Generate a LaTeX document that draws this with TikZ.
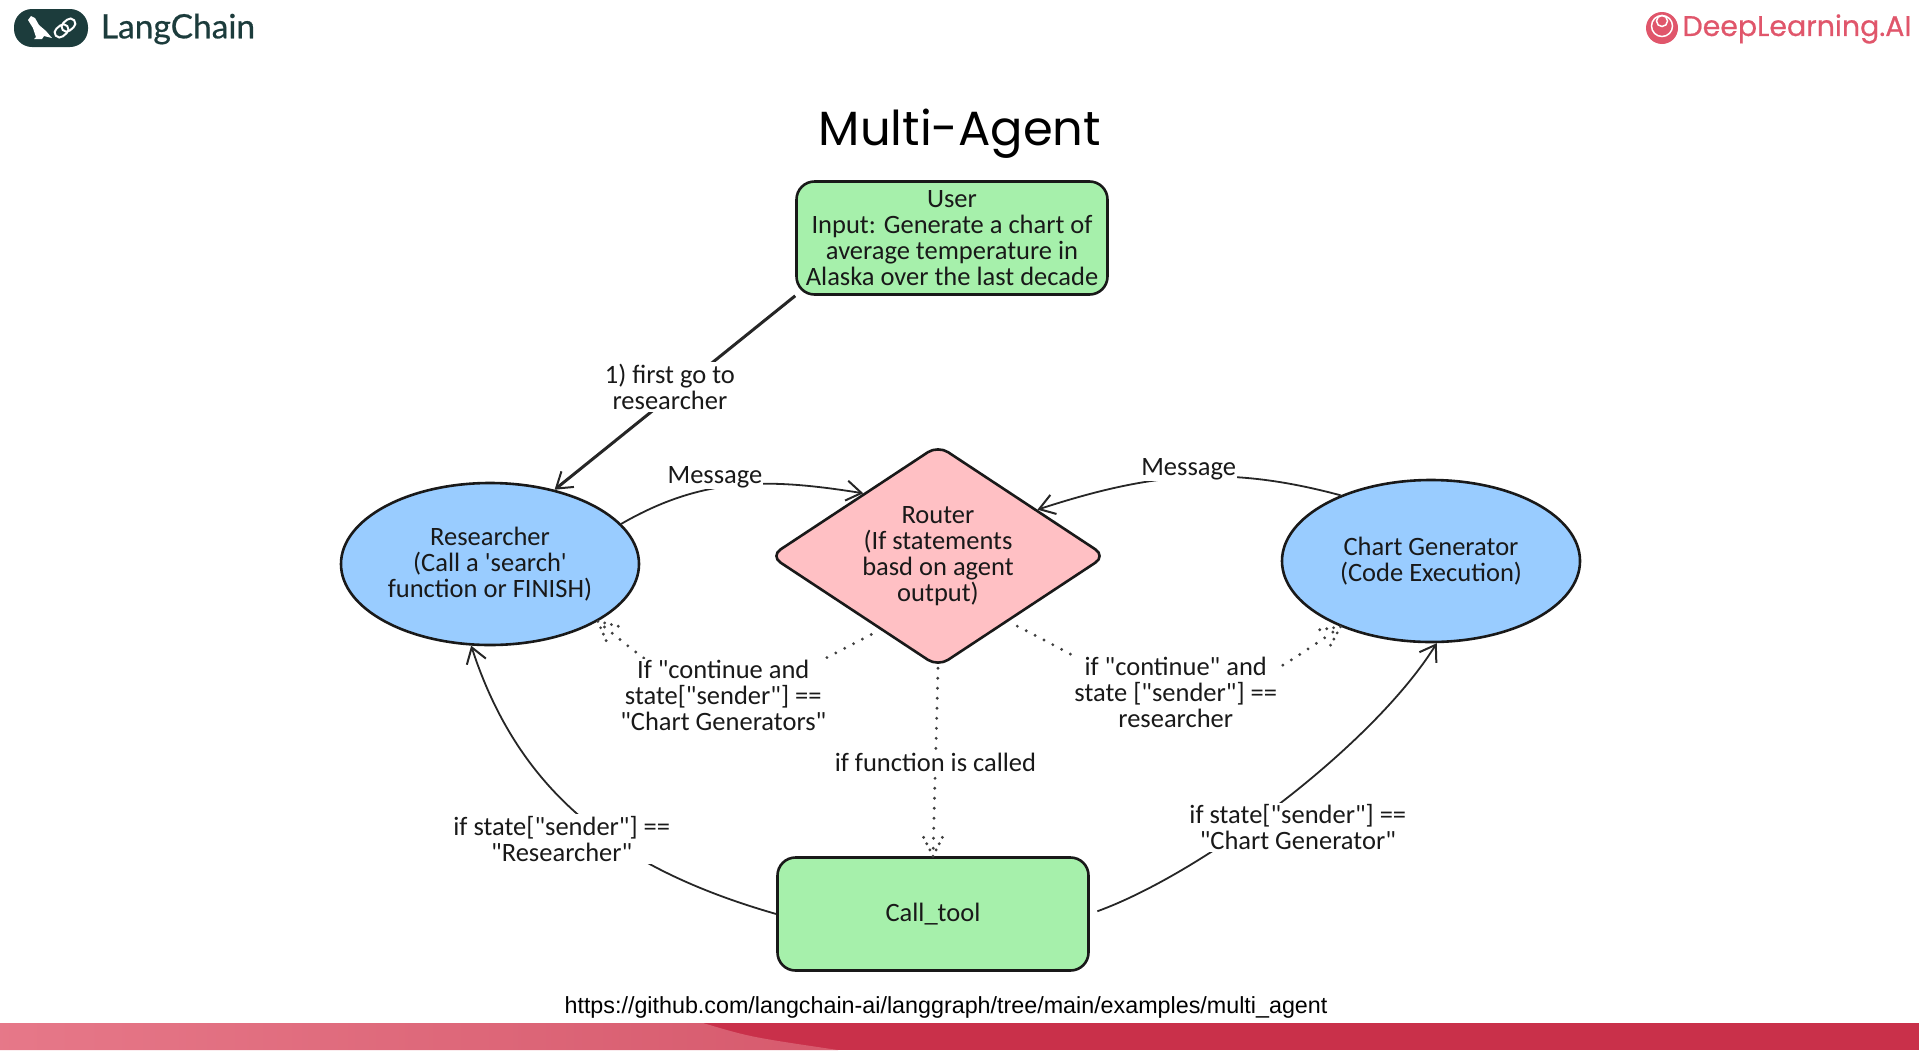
\documentclass[tikz,border=0pt]{standalone}
\usepackage{fontspec}
\newfontfamily\sketchfont{Carlito}
\newfontfamily\popfont{Poppins}
\newfontfamily\popbold[FakeBold=0.6]{Poppins}
\newfontfamily\latofont[FakeBold=0.6]{Lato}
\newfontfamily\urlfont{Liberation Sans}
\usetikzlibrary{arrows.meta,positioning,shapes.geometric}
\definecolor{boxgreen}{HTML}{A6F0AB}
\definecolor{ellblue}{HTML}{99CCFF}
\definecolor{routerpink}{HTML}{FFC0C4}
\definecolor{lcteal}{HTML}{1C3C3C}
\definecolor{dlred}{HTML}{E0566B}
\definecolor{bardark}{HTML}{C9304A}

\begin{document}
\begin{tikzpicture}[->,>={Straight Barb[length=15pt,width=20pt,line width=2pt]},x=1pt,y=-1pt,node distance=318pt]
  \tikzstyle{sketch}=[draw=black!90,line width=2.6pt,align=center,font=\sketchfont\fontsize{26.5}{26}\selectfont,text=black!90,inner sep=0pt]
  \tikzstyle{greenbox}=[sketch,rectangle,rounded corners=18pt,fill=boxgreen,minimum width=311pt,minimum height=113pt]
  \tikzstyle{bluebell}=[sketch,ellipse,fill=ellblue,minimum width=298pt,minimum height=162pt]
  \tikzstyle{router}=[sketch,diamond,aspect=1.5,rounded corners=12pt,fill=routerpink,minimum width=336pt,minimum height=222pt]
  \tikzstyle{lbl}=[fill=white,align=center,inner sep=2pt,text=black!90,font=\sketchfont\fontsize{26.5}{26}\selectfont]
  \tikzstyle{solidline}=[line width=1.8pt,draw=black!85]
  \tikzstyle{dotline}=[line width=3.2pt,draw=black!75,line cap=round,dash pattern=on 0pt off 10pt,-]
  \tikzset{dottip/.pic={\draw[line width=3.2pt,draw=black!75,line cap=round,dash pattern=on 0pt off 7pt,-] (0,0)--(-20,10) (0,0)--(-20,-10);}}

  \useasboundingbox (0,0) rectangle (1919,1050);

  % bottom bar
  \fill[bardark] (0,1023) rectangle (1919,1050);
  \shade[left color=dlred!80,right color=dlred!90!gray] (0,1023) -- (703,1023) .. controls (750,1037) .. (838,1050) -- (0,1050) -- cycle;

  % logos
  \fill[lcteal,rounded corners=18pt] (14,9) rectangle (88,47);
  \fill[white] (28,20) -- (31,16) -- (35,18) -- (39,25) -- (46,31) -- (52,38) -- (44,36) -- (42,39) -- (34,39) -- (36,37) -- (33,28) -- cycle;
  \begin{scope}[rotate around={40:(65,28)},draw=white,line width=2pt]
    \draw[rounded corners=5pt,white] (53,23) rectangle (68,33);
    \draw[rounded corners=5pt,white] (62,23) rectangle (77,33);
  \end{scope}
  \node[text=lcteal,font=\latofont\fontsize{33.5}{33}\selectfont,inner sep=0pt] (lcname) at (178,29) {LangChain};
  \fill[dlred] (1662,28) circle (16);
  \draw[white,line width=1.5pt] (1662,26) circle (10.5);
  \draw[white,line width=1.5pt] (1662,21) circle (5.5);
  \node[text=dlred,font=\popbold\fontsize{28.4}{28}\selectfont,inner sep=0pt] (dlname) at (1797,29) {DeepLearning.AI};

  \node[font=\popfont\fontsize{48}{48}\selectfont,inner sep=0pt] (title) at (960,134) {Multi-Agent};

  \node[greenbox] (U) at (952,238) {User\\Input: Generate a chart of\\average temperature in\\Alaska over the last decade};
  \node[router] (Rt) [below of= U,xshift=-14pt] {Router\\(If statements\\basd on agent\\output)};
  \node[bluebell] (Res) [left of= Rt,xshift=-130pt,yshift=-8pt] {Researcher\\(Call a 'search'\\function or FINISH)};
  \node[bluebell] (Chart) [right of= Rt,xshift=175pt,yshift=-5pt] {Chart Generator\\(Code Execution)};
  \node[greenbox] (Call) [below of= Rt,xshift=-5pt,yshift=-40pt] {Call\_tool};

  \path (U.south west) edge[line width=3pt,draw=black!85] node[lbl,xshift=-5pt,yshift=6pt] {1) first go to\\researcher} (Res.49)
  (Res.17) edge[solidline,out=30,in=171] node[lbl,pos=0.4,yshift=11pt,inner sep=1pt] {Message} (Rt.140)
  (Chart.144) edge[solidline,out=165,in=18] node[lbl,pos=0.52,xshift=6pt,yshift=8pt,inner sep=1pt] {Message} (Rt.25)
  (Call.west) edge[solidline,out=164,in=-72] node[lbl,xshift=-23pt,yshift=-19pt] {if state["sender"] ==\\"Researcher"} (Res.257)
  (Call.east) edge[solidline,shorten <=8pt,out=20,in=238,looseness=0.7] node[lbl,xshift=16pt,yshift=-26pt] {if state["sender"] ==\\"Chart Generator"} (Chart.274)
  ;
  \path (Rt.232) edge[dotline,shorten <=10pt,out=207,in=-40,looseness=1.5] node[lbl,xshift=-8pt,yshift=-2pt] {If "continue and\\state["sender"] ==\\"Chart Generators"} (Res.-28)
  (Rt.317) edge[dotline,shorten <=10pt,out=-27,in=215,looseness=1.5] node[lbl,xshift=-4pt,yshift=7pt] {if "continue" and\\state ["sender"] ==\\researcher} (Chart.216)
  (Rt.south) edge[dotline] node[lbl,pos=0.5] {if function is called} (Call.north)
  ;
  \pic[rotate=-90] at (Call.north) {dottip};
  \pic[rotate=140] at (Res.-28) {dottip};
  \pic[rotate=35] at (Chart.216) {dottip};

  \node[font=\urlfont\fontsize{23.3}{23}\selectfont,inner sep=0pt] (url) at (946,1007) {https://github.com/langchain-ai/langgraph/tree/main/examples/multi\_agent};
\end{tikzpicture}
\end{document}
